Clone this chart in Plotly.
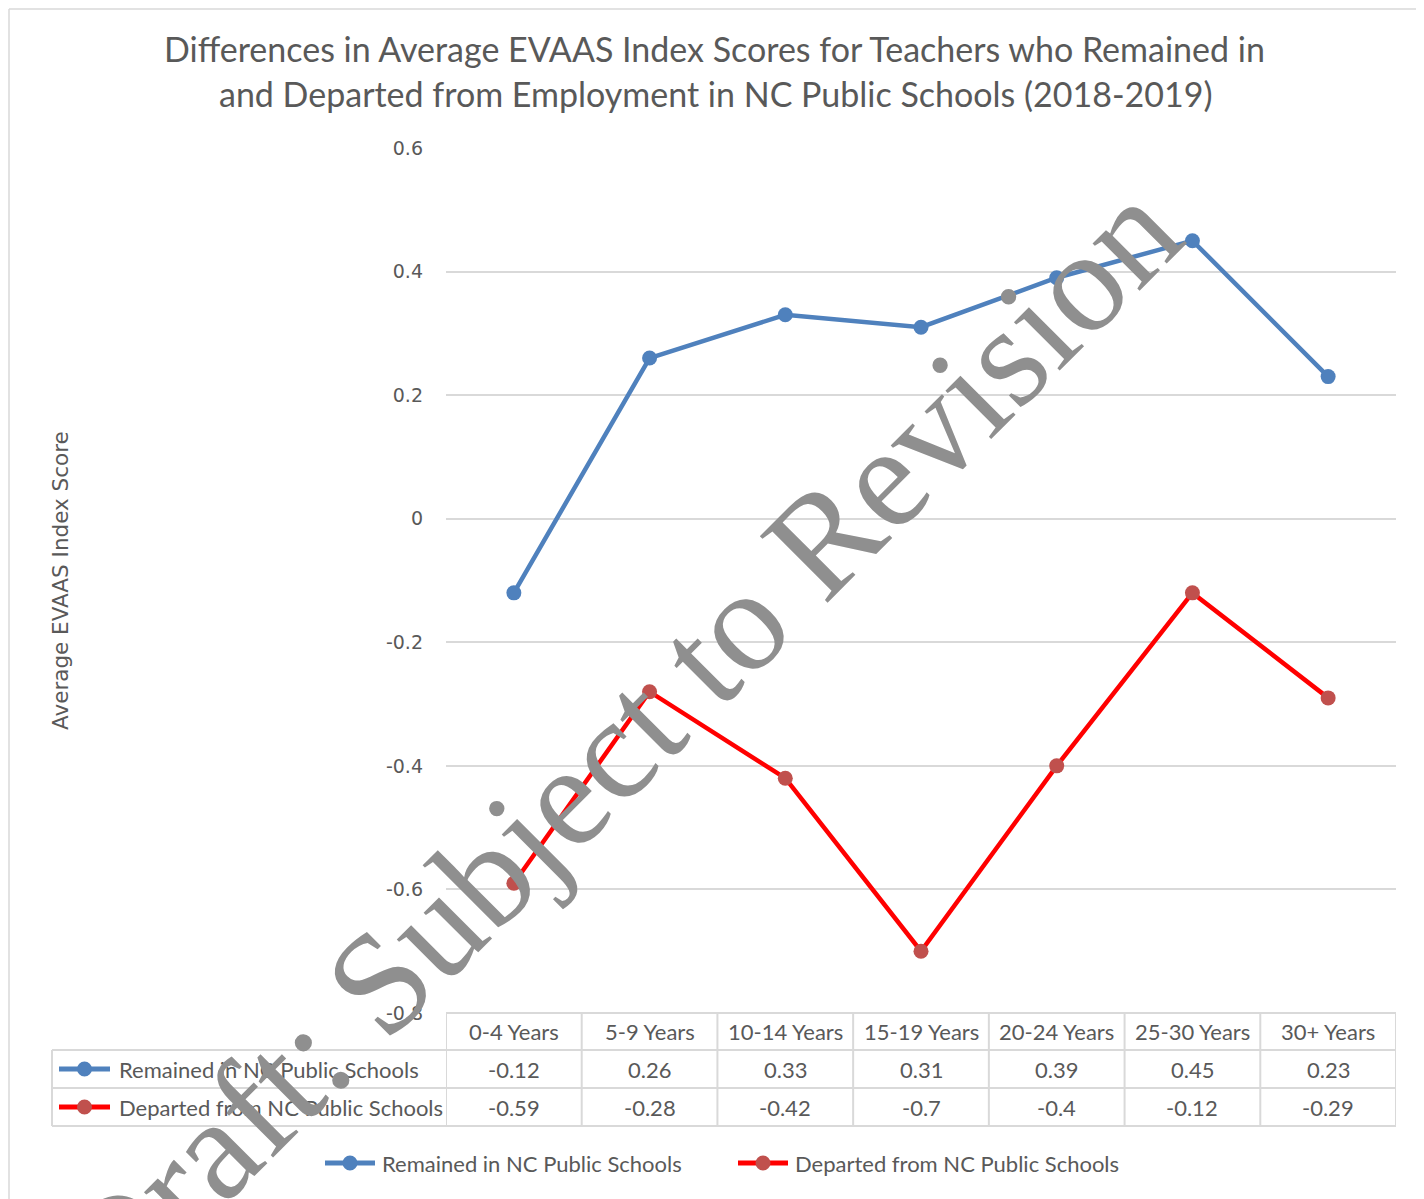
import plotly.graph_objects as go

categories = ["0-4 Years", "5-9 Years", "10-14 Years", "15-19 Years",
              "20-24 Years", "25-30 Years", "30+ Years"]
remained = [-0.12, 0.26, 0.33, 0.31, 0.39, 0.45, 0.23]
departed = [-0.59, -0.28, -0.42, -0.70, -0.40, -0.12, -0.29]
series_names = ["Remained in NC Public Schools", "Departed from NC Public Schools"]
y_ticks = [-0.8, -0.6, -0.4, -0.2, 0, 0.2, 0.4, 0.6]
y_tick_labels = ["-0.8", "-0.6", "-0.4", "-0.2", "0", "0.2", "0.4", "0.6"]

# page has an 8px body margin; figure is offset by it
OFF = 8
W, H = 1424 - OFF, 1199 - OFF
# plot area in page pixels: x 446..1396, y 148..1013
L, R, T, B = 446 - OFF, 1424 - 1396, 148 - OFF, 1199 - 1013
PW, PH = W - L - R, H - T - B

def px(x):  # page pixel -> paper
    return (x - OFF - L) / PW

def py(y):
    return (T + PH - (y - OFF)) / PH

BLUE = "#4f81bd"
RED_LINE = "#ff0000"
RED_MARK = "#c0504d"
GRID = "#d9d9d9"
TXT = "#595959"
FONT = "Lato"

fig = go.Figure()
idx = list(range(len(categories)))
fig.add_trace(go.Scatter(x=idx, y=remained, mode="lines+markers", name=series_names[0],
                         line=dict(color=BLUE, width=4.5),
                         marker=dict(color=BLUE, size=15, line=dict(width=0))))
fig.add_trace(go.Scatter(x=idx, y=departed, mode="lines+markers", name=series_names[1],
                         line=dict(color=RED_LINE, width=4.5),
                         marker=dict(color=RED_MARK, size=15, line=dict(width=0))))

shapes = []
ann = []

# chart outer border (left/top)
shapes.append(dict(type="line", xref="paper", yref="paper", x0=px(9), x1=px(1430), y0=py(9), y1=py(9),
                   line=dict(color="#d9d9d9", width=1.5)))
shapes.append(dict(type="line", xref="paper", yref="paper", x0=px(9), x1=px(9), y0=py(9), y1=py(1210),
                   line=dict(color="#d9d9d9", width=1.5)))

# data table grid
row_lines = [1050, 1088, 1126]
shapes.append(dict(type="line", xref="paper", yref="paper", x0=px(446), x1=px(1396), y0=py(1013), y1=py(1013),
                   line=dict(color=GRID, width=2)))
for ry in row_lines:
    shapes.append(dict(type="line", xref="paper", yref="paper", x0=px(52), x1=px(1396), y0=py(ry), y1=py(ry),
                       line=dict(color=GRID, width=2)))
for i in range(len(categories) + 1):
    shapes.append(dict(type="line", xref="x", yref="paper", x0=i - 0.5, x1=i - 0.5, y0=py(1013), y1=py(1126),
                       line=dict(color=GRID, width=2)))
shapes.append(dict(type="line", xref="paper", yref="paper", x0=px(52), x1=px(52), y0=py(1050), y1=py(1126),
                   line=dict(color=GRID, width=2)))

def text_ann(x, y, text, size, xref="paper", xanchor="center", family=FONT, angle=0, color=TXT):
    ann.append(dict(x=x, y=y, xref=xref, yref="paper", text=text, showarrow=False,
                    xanchor=xanchor, yanchor="middle", textangle=angle,
                    font=dict(family=family, size=size, color=color)))

TS = 22
# table header and values
for i, c in enumerate(categories):
    text_ann(i, py(1032), c, TS, xref="x")
    text_ann(i, py(1069), f"{remained[i]:g}", TS, xref="x")
    text_ann(i, py(1107), f"{departed[i]:g}", TS, xref="x")

def legend_key(x0, x1, yc, lc, mc, text_x, text):
    shapes.append(dict(type="line", xref="paper", yref="paper", x0=px(x0), x1=px(x1), y0=py(yc), y1=py(yc),
                       line=dict(color=lc, width=5)))
    xm = px((x0 + x1) / 2)
    shapes.append(dict(type="circle", xref="paper", yref="paper", xsizemode="pixel", ysizemode="pixel",
                       xanchor=xm, yanchor=py(yc), x0=-7.5, x1=7.5, y0=-7.5, y1=7.5,
                       fillcolor=mc, line=dict(width=0)))
    text_ann(px(text_x), py(yc), text, TS, xanchor="left")

legend_key(59, 110, 1069, BLUE, BLUE, 117, series_names[0])
legend_key(59, 110, 1107, RED_LINE, RED_MARK, 117, series_names[1])
legend_key(325, 375, 1163, BLUE, BLUE, 380, series_names[0])
legend_key(738, 788, 1163, RED_LINE, RED_MARK, 793, series_names[1])

# y axis title
text_ann(px(60), py(581), "Average EVAAS Index Score", 21.5, family="DejaVu Sans", angle=-90)

# title
text_ann(px(714), py(48), "Differences in Average EVAAS Index Scores for Teachers who Remained in", 34)
text_ann(px(716), py(93), "and Departed from Employment in NC Public Schools (2018-2019)", 34)

# watermark
text_ann(px(617), py(744), "Draft: Subject to Revision", 145, family="Liberation Serif",
         angle=-45, color="#8f8f8f")

fig.update_layout(
    width=W, height=H, margin=dict(l=L, r=R, t=T, b=B),
    paper_bgcolor="white", plot_bgcolor="white", showlegend=False,
    shapes=shapes, annotations=ann,
    xaxis=dict(range=[-0.5, 6.5], showgrid=False, showticklabels=False, zeroline=False,
               showline=False, ticks="", fixedrange=True),
    yaxis=dict(range=[-0.8, 0.6], tickvals=y_ticks, ticktext=y_tick_labels, showgrid=True,
               gridcolor=GRID, gridwidth=1.5, zeroline=False, showline=False, ticks="",
               ticklabelstandoff=22, tickfont=dict(family="DejaVu Sans", size=19, color=TXT)),
)

fig.write_html("out.html")
